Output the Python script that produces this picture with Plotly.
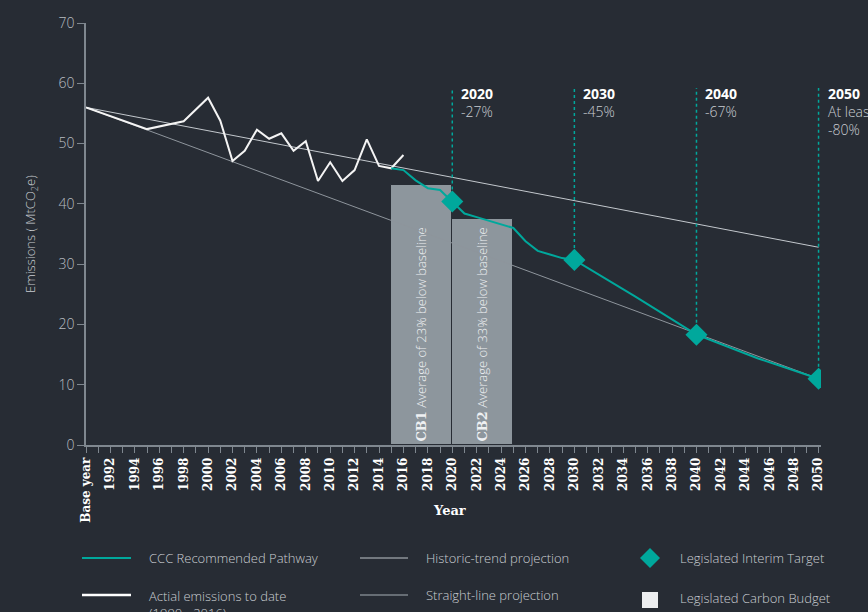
import plotly.graph_objects as go

# ---------------- data ----------------
actual_years = [1990, 1995, 1998, 2000, 2001, 2002, 2003, 2004, 2005, 2006, 2007, 2008,
                2009, 2010, 2011, 2012, 2013, 2014, 2015, 2016]
actual_vals = [56.0, 52.4, 53.7, 57.6, 53.8, 47.1, 48.8, 52.3, 50.8, 51.7, 48.8, 50.4,
               43.8, 46.9, 43.8, 45.6, 50.7, 46.3, 45.9, 48.1]

ccc_years = [2015, 2016, 2017, 2018, 2019, 2020, 2021, 2022, 2023, 2024, 2025, 2026,
             2027, 2028, 2029, 2030, 2035, 2040, 2045, 2050]
ccc_vals = [45.9, 45.6, 43.9, 42.6, 42.3, 40.4, 38.4, 37.8, 37.2, 36.6, 36.0, 33.8,
            32.2, 31.6, 31.0, 30.7, 24.6, 18.3, 14.4, 11.0]

historic_years = [1990, 2050]
historic_vals = [56.0, 32.8]

straight_years = [1990, 2050]
straight_vals = [56.0, 11.0]

target_years = [2020, 2030, 2040, 2050]
target_vals = [40.4, 30.7, 18.3, 11.0]
target_labels = ["-27%", "-45%", "-67%", "At least<br>-80%"]
target_line_top = 59.2

budget_start = [2015, 2020]
budget_end = [2020, 2025]
budget_vals = [43.2, 37.5]
budget_names = ["CB1", "CB2"]
budget_texts = ["Average of 23% below baseline", "Average of 33% below baseline"]

tick_years = [1990, 1992, 1994, 1996, 1998, 2000, 2002, 2004, 2006, 2008, 2010, 2012,
              2014, 2016, 2018, 2020, 2022, 2024, 2026, 2028, 2030, 2032, 2034, 2036,
              2038, 2040, 2042, 2044, 2046, 2048, 2050]
tick_text = ["Base year"] + [str(y) for y in tick_years[1:]]

# ---------------- style ----------------
BG = "#272c34"
TEAL = "#00a89c"
BAR = "#8d969d"
AXIS = "#7f878f"
LIGHT = "#c9cdd2"
SLAB = "DejaVu Serif, serif"
SANS = "Open Sans, Noto Sans, sans-serif"

L, R, T, B = 86, 821, 23, 445
W, H = R - L, B - T


def px(xp):
    return (xp - L) / W


def py(yp):
    return (B - yp) / H


fig = go.Figure()

# carbon budgets
fig.add_trace(go.Bar(
    x=[(s + e) / 2 for s, e in zip(budget_start, budget_end)],
    y=budget_vals,
    width=[e - s for s, e in zip(budget_start, budget_end)],
    marker=dict(color=BAR, line=dict(color=BG, width=1)),
    text=[f"<span style=\"font-family:'DejaVu Serif';font-weight:bold\">{n}</span> {t}"
          for n, t in zip(budget_names, budget_texts)],
    textposition="inside",
    insidetextanchor="start",
    textangle=-90,
    textfont=dict(family=SANS, size=13, color="#eef0f2", weight=300),
    showlegend=False,
    hoverinfo="skip",
))

# projections
fig.add_trace(go.Scatter(x=straight_years, y=straight_vals, mode="lines",
                         line=dict(color="#8e959c", width=1), showlegend=False))
fig.add_trace(go.Scatter(x=historic_years, y=historic_vals, mode="lines",
                         line=dict(color="#c3c8cd", width=1), showlegend=False))

# dotted target lines
dx, dy = [], []
for yr, v in zip(target_years, target_vals):
    dx += [yr, yr, None]
    dy += [v, target_line_top, None]
fig.add_trace(go.Scatter(x=dx, y=dy, mode="lines",
                         line=dict(color=TEAL, width=1.5, dash="dot"), showlegend=False))

# actual emissions
fig.add_trace(go.Scatter(x=actual_years, y=actual_vals, mode="lines",
                         line=dict(color="#f4f4f4", width=2), showlegend=False))

# CCC pathway
fig.add_trace(go.Scatter(x=ccc_years, y=ccc_vals, mode="lines",
                         line=dict(color=TEAL, width=2), showlegend=False))

# targets
fig.add_trace(go.Scatter(x=target_years, y=target_vals, mode="markers",
                         marker=dict(symbol="diamond", size=17, color=TEAL),
                         showlegend=False))

annotations = []
for yr, lab in zip(target_years, target_labels):
    annotations.append(dict(
        x=yr, y=target_line_top, xref="x", yref="y", xanchor="left", yanchor="top",
        xshift=7, yshift=6, align="left", showarrow=False,
        text=f"<b><span style='color:#ffffff'>{yr}</span></b><br>{lab}",
        font=dict(family=SANS, size=14, color=LIGHT, weight=300),
    ))

# axis titles
annotations.append(dict(
    x=px(449), y=py(510), xref="paper", yref="paper", showarrow=False,
    text="<b>Year</b>", font=dict(family=SLAB, size=13, color="#ffffff"),
    xanchor="center", yanchor="middle"))
annotations.append(dict(
    x=px(31), y=py(234), xref="paper", yref="paper", showarrow=False, textangle=-90,
    text="Emissions ( MtCO<sub>2</sub>e)", font=dict(family=SANS, size=13, color=LIGHT, weight=300),
    xanchor="center", yanchor="middle"))

# manual legend
shapes = []
leg = [
    ("line", 82, 131, 558, TEAL, 2, "CCC Recommended Pathway", 147),
    ("line", 82, 131, 595, "#ffffff", 2.5, "Actial emissions to date<br>(1990 - 2016)", 147),
    ("line", 360, 408, 558, "#bfc4c9", 1, "Historic-trend projection", 424),
    ("line", 360, 408, 595, "#7c838a", 1.5, "Straight-line projection", 424),
]
for kind, x0, x1, yy, col, w, txt, tx in leg:
    shapes.append(dict(type="line", xref="paper", yref="paper",
                       x0=px(x0), x1=px(x1), y0=py(yy), y1=py(yy),
                       line=dict(color=col, width=w)))
    if "<br>" in txt:
        annotations.append(dict(x=px(tx), y=py(yy - 10), xref="paper", yref="paper",
                                xanchor="left", yanchor="top", align="left", showarrow=False,
                                text=txt, font=dict(family=SANS, size=13, color=LIGHT, weight=300)))
    else:
        annotations.append(dict(x=px(tx), y=py(yy), xref="paper", yref="paper",
                                xanchor="left", yanchor="middle", showarrow=False,
                                text=txt, font=dict(family=SANS, size=13, color=LIGHT, weight=300)))

# diamond legend symbol
cx, cy, r = 650, 558, 10
shapes.append(dict(type="path", xref="paper", yref="paper",
                   path=f"M {px(cx)} {py(cy - r)} L {px(cx + r)} {py(cy)} L {px(cx)} {py(cy + r)} L {px(cx - r)} {py(cy)} Z",
                   fillcolor=TEAL, line=dict(width=0)))
annotations.append(dict(x=px(678), y=py(558), xref="paper", yref="paper",
                        xanchor="left", yanchor="middle", showarrow=False,
                        text="Legislated Interim Target",
                        font=dict(family=SANS, size=13, color=LIGHT, weight=300)))
# square legend symbol
shapes.append(dict(type="rect", xref="paper", yref="paper",
                   x0=px(642), x1=px(658), y0=py(608), y1=py(592),
                   fillcolor="#eceef0", line=dict(width=0)))
annotations.append(dict(x=px(678), y=py(598), xref="paper", yref="paper",
                        xanchor="left", yanchor="middle", showarrow=False,
                        text="Legislated Carbon Budget",
                        font=dict(family=SANS, size=13, color=LIGHT, weight=300)))

fig.update_layout(
    width=868, height=612,
    margin=dict(l=L, r=868 - R, t=T, b=612 - B, autoexpand=False),
    paper_bgcolor=BG, plot_bgcolor=BG,
    showlegend=False,
    annotations=annotations,
    shapes=shapes,
    bargap=0,
)

fig.update_xaxes(
    range=[1990, 2050.2], showgrid=False, zeroline=False,
    showline=True, linecolor=AXIS, linewidth=1.5,
    tickmode="array", tickvals=tick_years, ticktext=tick_text,
    ticks="outside", ticklen=6, tickcolor=AXIS, tickwidth=1,
    tickangle=-90,
    tickfont=dict(family=SLAB, size=12, color="#ffffff", weight="bold"),
    minor=dict(dtick=1, tick0=1990, ticks="outside", ticklen=6, tickcolor=AXIS, showgrid=False),
    automargin=False,
)
fig.update_yaxes(
    range=[0, 70], showgrid=False, zeroline=False,
    showline=True, linecolor=AXIS, linewidth=1.5,
    tickvals=[0, 10, 20, 30, 40, 50, 60, 70],
    ticks="outside", ticklen=7, tickcolor=AXIS,
    tickfont=dict(family=SANS, size=14, color="#b7bcc1", weight=300),
    automargin=False,
)

fig.write_html(
    "out.html",
    config={"displayModeBar": False},
    post_script="document.body.style.margin='0';document.body.style.background='#272c34';",
)
